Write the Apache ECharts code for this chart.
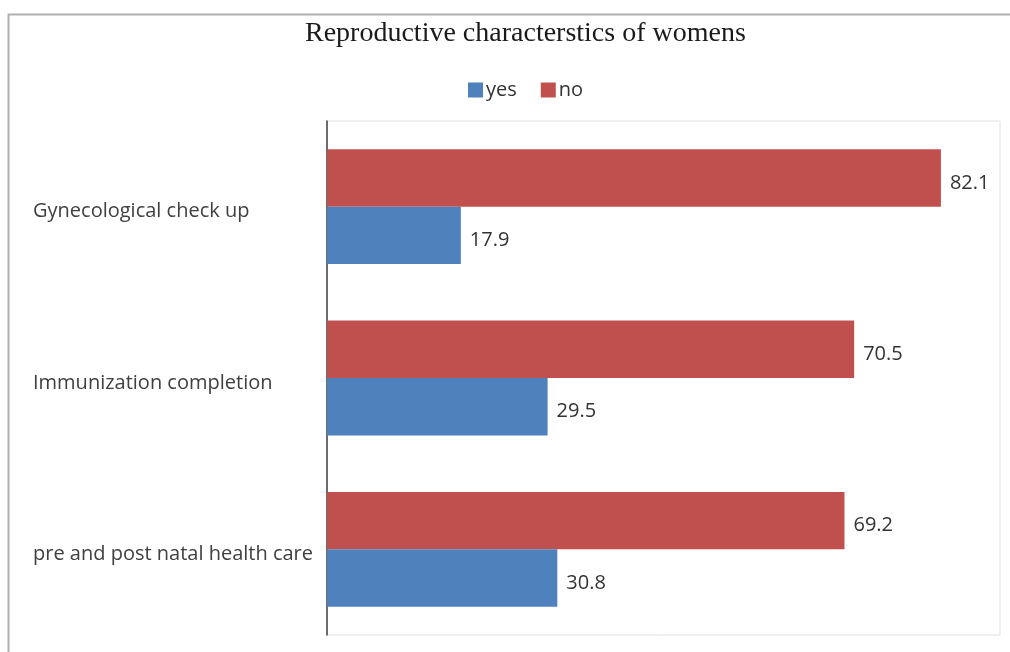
<!DOCTYPE html>
<html>
<head>
<meta charset="utf-8">
<script src="https://cdn.jsdelivr.net/npm/echarts@6/dist/echarts.min.js"></script>
<style>
  html, body { margin: 0; padding: 0; background: #fff; }
  #chart { width: 1010px; height: 652px; }
</style>
</head>
<body>
<div id="chart"></div>
<script>
// categories listed bottom to top (category axis grows upward)
var categories = ['pre and post natal health care', 'Immunization completion', 'Gynecological check up'];
var yesValues = [30.8, 29.5, 17.9];
var noValues = [69.2, 70.5, 82.1];

var labelFont = '"Open Sans", "Noto Sans", sans-serif';

var chart = echarts.init(document.getElementById('chart'));

function valueLabel() {
  return {
    show: true,
    position: 'right',
    distance: 9,
    offset: [0, 5],
    fontFamily: labelFont,
    fontSize: 20,
    color: '#333'
  };
}

var option = {
  animation: false,
  backgroundColor: '#fff',
  title: {
    text: 'Reproductive characterstics of womens',
    left: 300,
    top: 15,
    textStyle: {
      fontFamily: '"Liberation Serif", "DejaVu Serif", serif',
      fontSize: 28,
      fontWeight: 'normal',
      color: '#1a1a1a'
    }
  },
  legend: {
    top: 75,
    left: 463,
    itemWidth: 15,
    itemHeight: 15,
    itemGap: 24,
    icon: 'rect',
    data: ['yes', 'no'],
    textStyle: {
      fontFamily: labelFont,
      fontSize: 20,
      color: '#333',
      padding: [0, 0, 0, -2]
    }
  },
  graphic: [{
    type: 'rect',
    shape: { x: 8.5, y: 14.5, width: 1010, height: 700 },
    style: { fill: 'none', stroke: '#b0b0b0', lineWidth: 2 },
    silent: true
  }],
  grid: {
    left: 327,
    top: 121,
    right: 10,
    bottom: 17,
    show: true,
    borderColor: '#e0e0e0',
    borderWidth: 1
  },
  xAxis: {
    type: 'value',
    min: 0,
    max: 90,
    show: false
  },
  yAxis: {
    type: 'category',
    data: categories,
    axisLine: { show: true, lineStyle: { color: '#404040', width: 1.5 } },
    axisTick: { show: false },
    axisLabel: {
      align: 'left',
      margin: 294,
      formatter: function (v) { return '{c|' + v + '}'; },
      rich: {
        c: {
          padding: [10, 0, 0, 0],
          fontFamily: labelFont,
          fontSize: 20,
          color: '#404040'
        }
      }
    }
  },
  series: [
    {
      name: 'no',
      type: 'bar',
      data: noValues,
      barGap: '0%',
      barCategoryGap: '33%',
      itemStyle: { color: '#C0504D' },
      label: valueLabel()
    },
    {
      name: 'yes',
      type: 'bar',
      data: yesValues,
      barGap: '0%',
      barCategoryGap: '33%',
      itemStyle: { color: '#4F81BD' },
      label: valueLabel()
    }
  ]
};

chart.setOption(option);
</script>
</body>
</html>
